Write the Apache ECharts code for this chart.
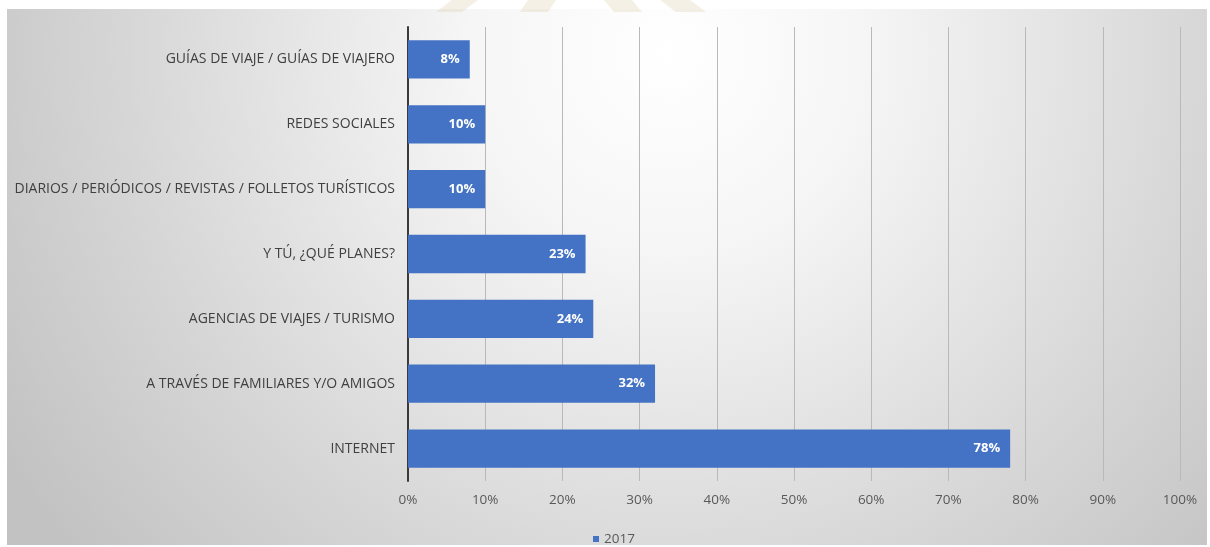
<!DOCTYPE html>
<html>
<head>
<meta charset="utf-8">
<script src="https://cdn.jsdelivr.net/npm/echarts@6/dist/echarts.min.js"></script>
<style>
  html, body { margin: 0; padding: 0; background: #ffffff; }
  #chart { width: 1210px; height: 547px; }
</style>
</head>
<body>
<div id="chart"></div>
<script>
// Categories listed top to bottom
const categories = [
  'GUÍAS DE VIAJE / GUÍAS DE VIAJERO',
  'REDES SOCIALES',
  'DIARIOS / PERIÓDICOS / REVISTAS / FOLLETOS TURÍSTICOS',
  'Y TÚ, ¿QUÉ PLANES?',
  'AGENCIAS DE VIAJES / TURISMO',
  'A TRAVÉS DE FAMILIARES Y/O AMIGOS',
  'INTERNET'
];
const values2017 = [8, 10, 10, 23, 24, 32, 78];
const seriesName = '2017';
const axisMin = 0;
const axisMax = 100;
const axisStep = 10;

const FONT = 'Open Sans';
const chart = echarts.init(document.getElementById('chart'), null, { renderer: 'canvas' });

chart.setOption({
  animation: false,
  backgroundColor: '#ffffff',
  textStyle: { fontFamily: FONT },
  graphic: [
    {
      type: 'rect',
      z: -10,
      silent: true,
      shape: { x: 7, y: 9, width: 1200, height: 536 },
      style: {
        fill: new echarts.graphic.RadialGradient(0.55, 0.08, 1.45, [
          { offset: 0, color: '#ffffff' },
          { offset: 0.25, color: '#f6f6f6' },
          { offset: 0.7, color: '#d6d6d6' },
          { offset: 1, color: '#c2c2c2' }
        ])
      }
    },
    // faint emblem strokes across the top strip
    { type: 'polygon', z: -9, silent: true, shape: { points: [[452, 0], [478, 0], [462, 12], [436, 12]] }, style: { fill: 'rgba(214,196,150,0.25)' } },
    { type: 'polygon', z: -9, silent: true, shape: { points: [[528, 0], [556, 0], [548, 12], [520, 12]] }, style: { fill: 'rgba(214,196,150,0.25)' } },
    { type: 'polygon', z: -9, silent: true, shape: { points: [[604, 0], [632, 0], [642, 12], [614, 12]] }, style: { fill: 'rgba(214,196,150,0.25)' } },
    { type: 'polygon', z: -9, silent: true, shape: { points: [[660, 0], [690, 0], [706, 12], [676, 12]] }, style: { fill: 'rgba(214,196,150,0.25)' } }
  ],
  legend: {
    data: [seriesName],
    left: 588,
    top: 527,
    icon: 'rect',
    itemWidth: 6,
    itemHeight: 6,
    itemGap: 4,
    textStyle: { color: '#595959', fontSize: 13.5, fontFamily: FONT, padding: [0, 0, 0, 0] }
  },
  grid: {
    left: 408,
    right: 30,
    top: 27,
    bottom: 66,
    containLabel: false
  },
  xAxis: {
    type: 'value',
    min: axisMin,
    max: axisMax,
    interval: axisStep,
    axisLine: { show: false },
    axisTick: { show: false },
    axisLabel: {
      formatter: '{value}%',
      color: '#595959',
      fontSize: 13.5,
      fontFamily: FONT,
      margin: 12
    },
    splitLine: { show: true, lineStyle: { color: '#b9b9b9', width: 1 } }
  },
  yAxis: {
    type: 'category',
    inverse: true,
    data: categories,
    axisLine: { show: true, lineStyle: { color: '#3a3a3a', width: 2 } },
    axisTick: { show: false },
    axisLabel: {
      color: '#404040',
      fontSize: 14,
      fontFamily: FONT,
      margin: 13
    }
  },
  series: [
    {
      name: seriesName,
      type: 'bar',
      data: values2017,
      barCategoryGap: '41%',
      itemStyle: { color: '#4472c4' },
      label: {
        show: true,
        position: 'insideRight',
        distance: 10,
        formatter: '{c}%',
        color: '#ffffff',
        fontWeight: 'bold',
        fontSize: 13,
        fontFamily: FONT
      }
    }
  ]
});
</script>
</body>
</html>
